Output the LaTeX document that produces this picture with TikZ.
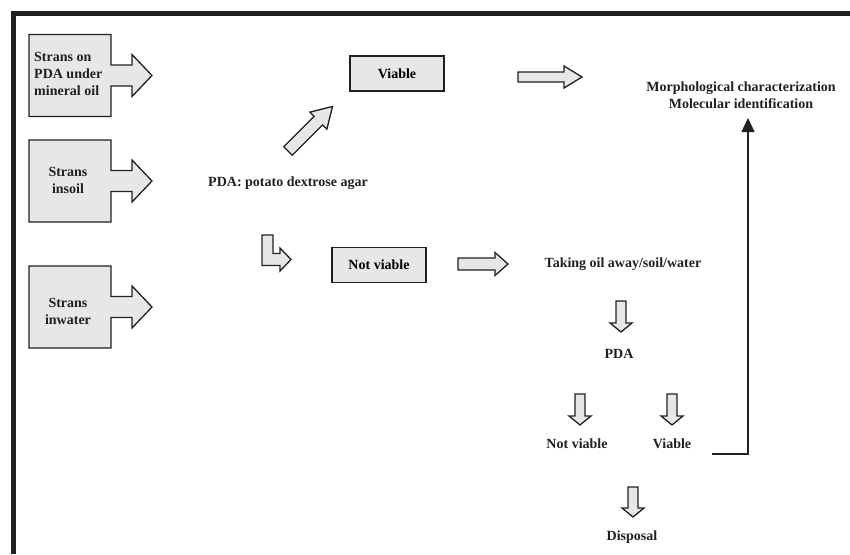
\documentclass[tikz,border=0pt]{standalone}
\usepackage{fontspec}
\setmainfont{Liberation Serif}
\usetikzlibrary{arrows.meta}

\definecolor{boxgray}{HTML}{E6E7E8}
\definecolor{ink}{HTML}{231F20}

% block arrow: x, y, angle, length, shaft half width, head half width, head length
\newcommand{\blockarrow}[7]{%
  \draw[block arrow, shift={(#1,#2)}, rotate=#3]
    (0,-#5) -- (#4-#7,-#5) -- (#4-#7,-#6) -- (#4,0) -- (#4-#7,#6)
    -- (#4-#7,#5) -- (0,#5) -- cycle;
}
% source box with its arrow, centred at height #1
\newcommand{\srcshape}[1]{%
  \draw[src box] (29,#1-41) -- (111,#1-41) -- (111,#1-10.5) -- (132,#1-10.5)
    -- (132,#1-21) -- (152,#1) -- (132,#1+21) -- (132,#1+10.5)
    -- (111,#1+10.5) -- (111,#1+41) -- (29,#1+41) -- cycle;
}

\begin{document}
\begin{tikzpicture}[
  x=1pt, y=-1pt,
  font=\bfseries\fontsize{14}{17}\selectfont,
  src box/.style={
    draw=ink, fill=boxgray, line width=1.3pt, line join=miter,
  },
  block arrow/.style={
    draw=ink, fill=boxgray, line width=1.3pt, line join=miter,
  },
  state box/.style={
    draw=ink, fill=boxgray, line width=1.3pt,
    minimum width=94pt, minimum height=35pt, inner sep=2pt,
  },
  label text/.style={
    text=ink, inner sep=1pt,
  },
  link/.style={
    draw=ink, line width=1.4pt, -{Triangle[length=14pt, width=13pt]},
  }
  ]
  \useasboundingbox (0,0) rectangle (850,554);

  % frame
  \draw[ink, line width=5pt] (13,554) -- (13,13.5) -- (852,13.5);

  % sources
  \srcshape{75.5}
  \srcshape{181}
  \srcshape{307}
  \node[label text, align=left, anchor=west] (oil) at (33,74) {Strans on\\PDA under\\mineral oil};
  \node[label text, align=center] (soil) at (68,180) {Strans\\insoil};
  \node[label text, align=center] (water) at (68,311) {Strans\\inwater};

  % medium
  \node[label text] (pda) at (288,183) {PDA: potato dextrose agar};
  \blockarrow{288}{151}{45}{63}{6}{12}{20}
  \draw[block arrow] (262,235) -- (273,235) -- (273,253.5) -- (280,253.5)
    -- (280,248) -- (291,259.5) -- (280,271) -- (280,265.5) -- (262,265.5) -- cycle;

  % viable branch
  \node[state box] (viable) at (397,73.5) {Viable};
  \blockarrow{518}{77}{0}{64}{5}{11}{18}
  \node[label text, align=center] (ident) at (741,95)
    {Morphological characterization\\Molecular identification};

  % not viable branch
  \node[state box] (notviable) at (379,265) {Not viable};
  \blockarrow{458}{264}{0}{50}{6}{11.5}{13}
  \node[label text] (taking) at (623,264) {Taking oil away/soil/water};
  \blockarrow{621}{301}{-90}{31}{5}{11}{9}
  \node[label text] (pdatwo) at (619,354) {PDA};
  \blockarrow{580}{394}{-90}{31}{5}{11}{9}
  \blockarrow{672}{394}{-90}{31}{5}{11}{9}
  \node[label text] (deadtwo) at (577,444) {Not viable};
  \node[label text] (alivetwo) at (672,444) {Viable};
  \blockarrow{633}{487}{-90}{30}{5}{11}{9}
  \node[label text] (disposal) at (632,537) {Disposal};

  % back to identification
  \coordinate (turn) at (712,454);
  \coordinate (identin) at (748,118);
  \draw[link] (turn) -- (identin |- turn) -- (identin);
\end{tikzpicture}
\end{document}
